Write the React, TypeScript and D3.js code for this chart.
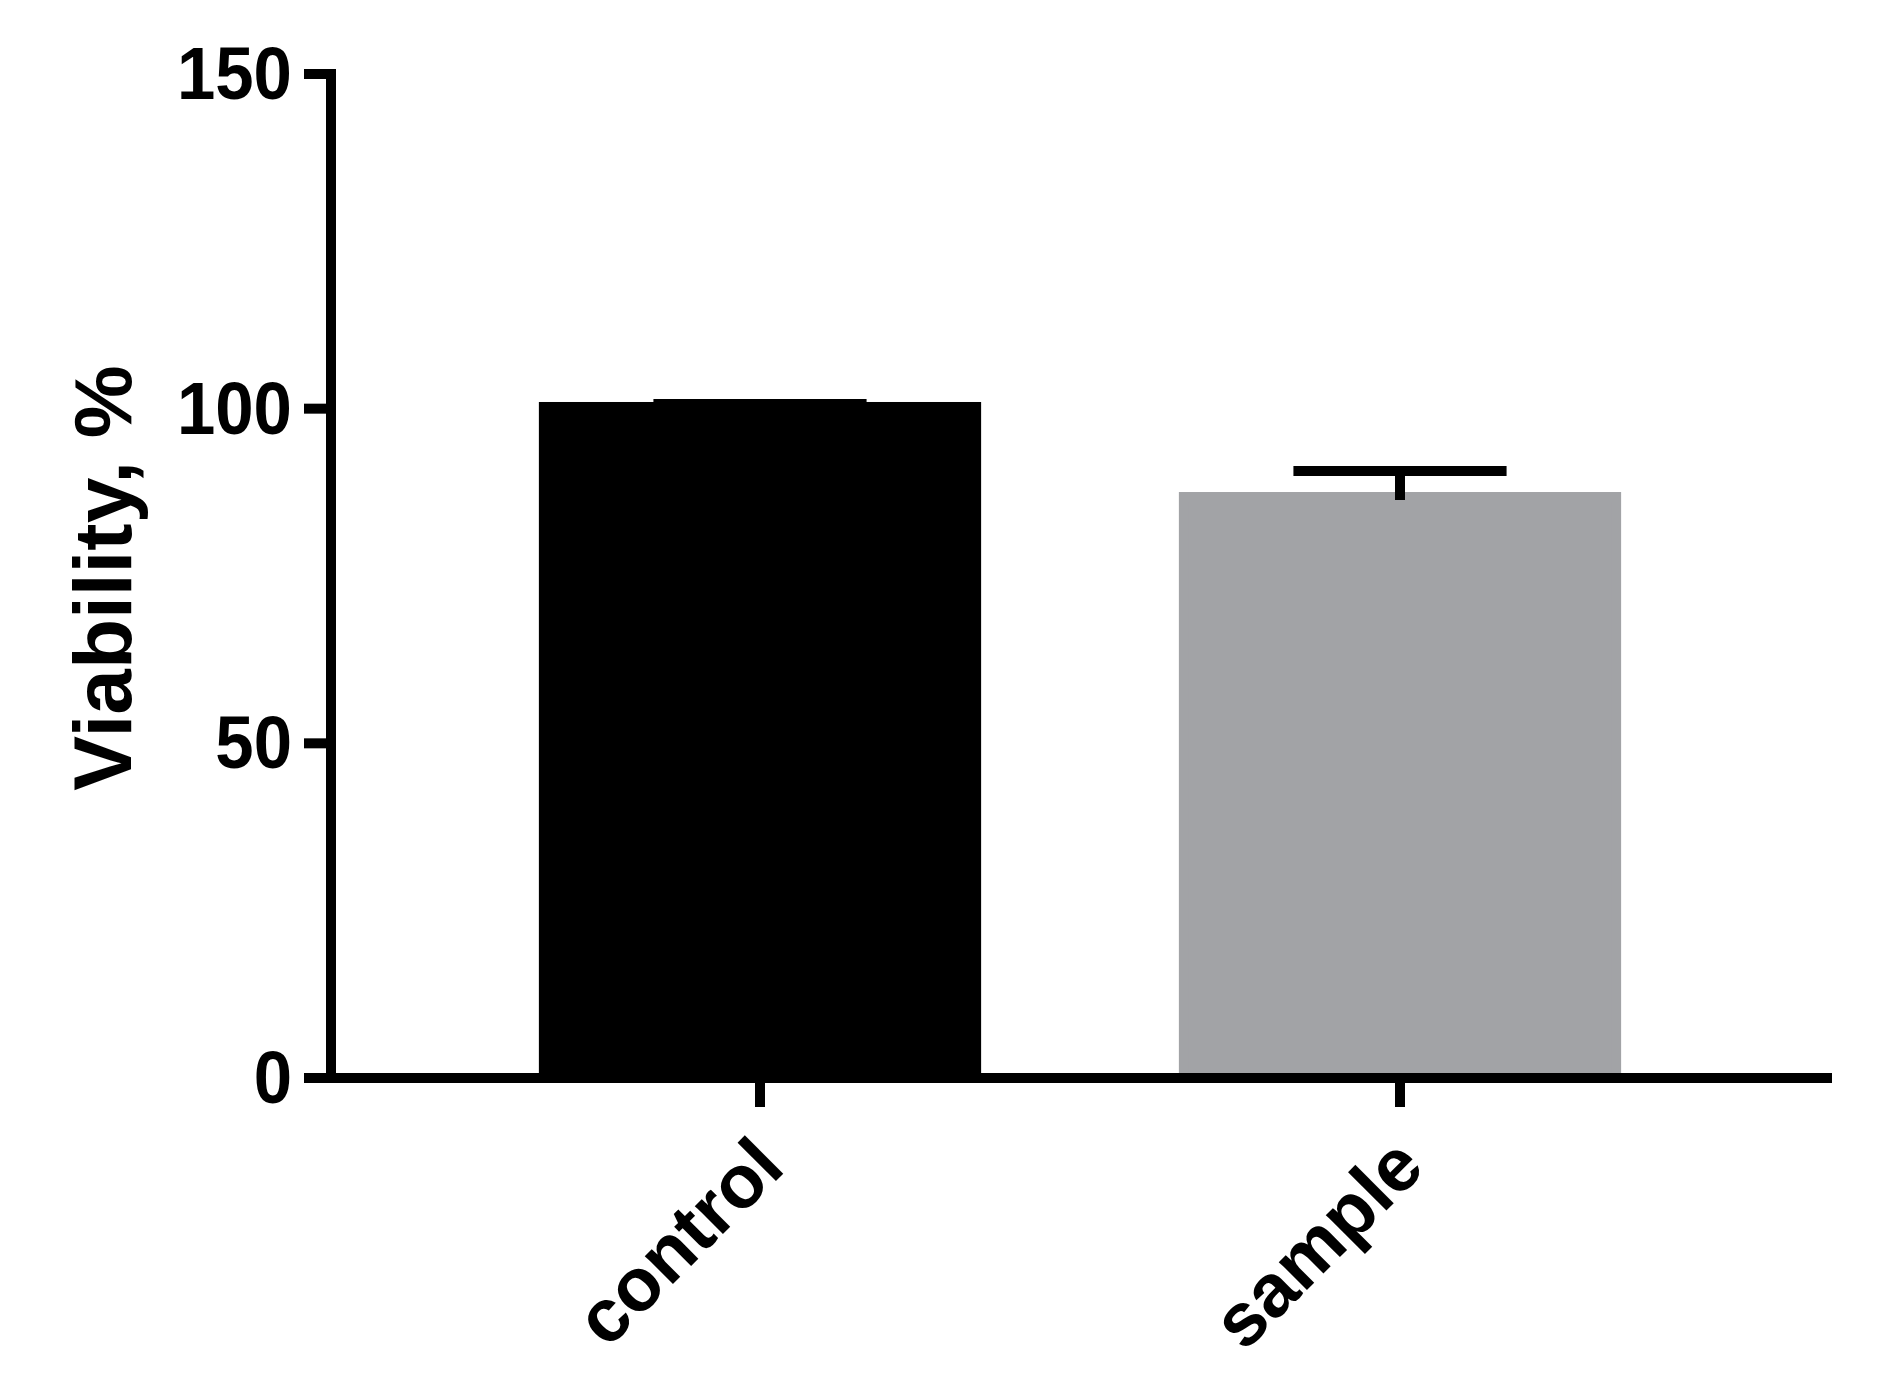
import React from "react";
import * as d3 from "d3";

const categories = ["control", "sample"];
const means = [100.25, 86.8];
const sems = [0.45, 3.89];
const barColors = ["#000000", "#a2a3a6"];
const yTicks = [0, 50, 100, 150];
const yTitle = "Viability, %";

const W = 1879;
const H = 1384;

export default function App() {
  const y = d3.scaleLinear().domain([0, 150]).range([1078, 74]);
  const x = d3
    .scaleBand<string>()
    .domain(categories)
    .range([440, 1720])
    .paddingInner(0.309)
    .paddingOuter(0.1545);
  const bw = x.bandwidth();
  const axisX = 331;
  const lw = 10;
  const font = "'Liberation Sans', Arial, Helvetica, sans-serif";

  return (
    <svg
      width={W}
      height={H}
      style={{ position: "absolute", left: 0, top: 0, background: "#fff" }}
      xmlns="http://www.w3.org/2000/svg"
    >
      <rect x={0} y={0} width={W} height={H} fill="#fff" />
      {/* bars */}
      {categories.map((c, i) => {
        const bx = x(c)!;
        return (
          <rect
            key={c}
            x={bx + lw / 2}
            y={y(means[i])}
            width={bw - lw}
            height={y(0) - y(means[i])}
            fill={barColors[i]}
            stroke={barColors[i]}
            strokeWidth={lw}
          />
        );
      })}
      {/* error bars */}
      {categories.map((c, i) => {
        const cx = x(c)! + bw / 2;
        const capY = y(means[i] + sems[i]);
        const capHalf = bw * 0.241;
        return (
          <g key={c + "-err"} stroke="#000" strokeWidth={lw}>
            <line x1={cx} x2={cx} y1={capY} y2={y(means[i]) + 3} />
            <line x1={cx - capHalf} x2={cx + capHalf} y1={capY} y2={capY} />
          </g>
        );
      })}
      {/* y axis */}
      <line
        x1={axisX}
        x2={axisX}
        y1={y(150) - lw / 2}
        y2={y(0) + lw / 2}
        stroke="#000"
        strokeWidth={lw}
      />
      {yTicks.map((t) => (
        <g key={t}>
          <line
            x1={304}
            x2={axisX}
            y1={y(t)}
            y2={y(t)}
            stroke="#000"
            strokeWidth={lw}
          />
          <text
            transform={`translate(292,${y(t) + 25}) scale(0.92,1)`}
            textAnchor="end"
            fontFamily={font}
            fontWeight="bold"
            fontSize={75}
            fill="#000"
          >
            {t}
          </text>
        </g>
      ))}
      {/* x axis */}
      <line
        x1={axisX - lw / 2}
        x2={1832}
        y1={y(0)}
        y2={y(0)}
        stroke="#000"
        strokeWidth={lw}
      />
      {categories.map((c) => {
        const cx = x(c)! + bw / 2;
        return (
          <g key={c + "-xt"}>
            <line
              x1={cx}
              x2={cx}
              y1={y(0)}
              y2={1107}
              stroke="#000"
              strokeWidth={lw}
            />
            <text
              transform={`translate(${cx + 27},1170) rotate(-45)`}
              textAnchor="end"
              fontFamily={font}
              fontWeight="bold"
              fontSize={75}
              fill="#000"
            >
              {c}
            </text>
          </g>
        );
      })}
      {/* y title */}
      <text
        transform={`translate(131,578) rotate(-90)`}
        textAnchor="middle"
        fontFamily={font}
        fontWeight="bold"
        fontSize={82}
        fill="#000"
      >
        {yTitle}
      </text>
    </svg>
  );
}
